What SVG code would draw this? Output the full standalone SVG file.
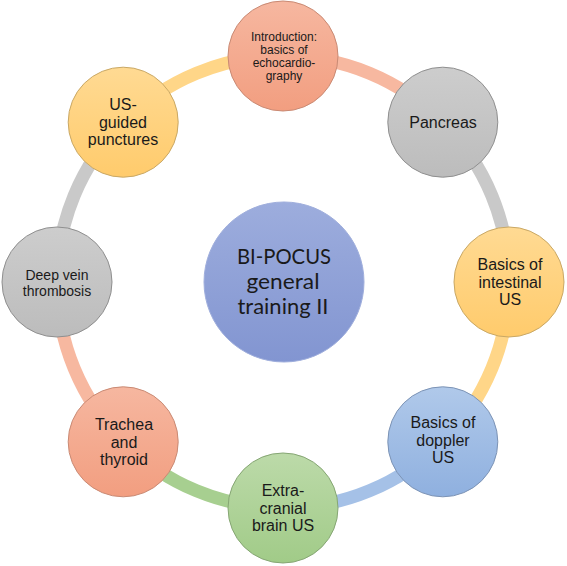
<svg xmlns="http://www.w3.org/2000/svg" width="567" height="566" viewBox="0 0 567 566">
<defs>
<linearGradient id="gSalmon" x1="0" y1="0" x2="0" y2="1"><stop offset="0" stop-color="#F6B7A0"/><stop offset="1" stop-color="#F29E80"/></linearGradient>
<linearGradient id="gGray" x1="0" y1="0" x2="0" y2="1"><stop offset="0" stop-color="#CDCDCD"/><stop offset="1" stop-color="#BCBCBC"/></linearGradient>
<linearGradient id="gYellow" x1="0" y1="0" x2="0" y2="1"><stop offset="0" stop-color="#FFDA93"/><stop offset="1" stop-color="#FFCB6C"/></linearGradient>
<linearGradient id="gBlue" x1="0" y1="0" x2="0" y2="1"><stop offset="0" stop-color="#B0C9EA"/><stop offset="1" stop-color="#8FB0DF"/></linearGradient>
<linearGradient id="gGreen" x1="0" y1="0" x2="0" y2="1"><stop offset="0" stop-color="#BCDAA9"/><stop offset="1" stop-color="#A1CB88"/></linearGradient>
<linearGradient id="gCenter" x1="0" y1="0" x2="0" y2="1"><stop offset="0" stop-color="#9DADDD"/><stop offset="1" stop-color="#8295D1"/></linearGradient>
</defs>
<style>
.arc{fill:none;stroke-width:13;}
.node{stroke-width:1;}
.t{font-family:"Liberation Sans",Arial,sans-serif;font-size:16px;fill:#1a1a1a;text-anchor:middle;}
.c{font-family:Lato,"Open Sans",sans-serif;font-size:22px;fill:#1a1a1a;text-anchor:middle;}
</style>
<rect width="567" height="566" fill="#ffffff"/>
<g id="connectors">
<path class="arc" stroke="#F7B8A0" d="M283,56 A226,226 0 0 1 442.8,122.2"/>
<path class="arc" stroke="#C9C9C9" d="M442.8,122.2 A226,226 0 0 1 509,282"/>
<path class="arc" stroke="#FFD688" d="M509,282 A226,226 0 0 1 442.8,441.8"/>
<path class="arc" stroke="#A5C1E7" d="M442.8,441.8 A226,226 0 0 1 283,508"/>
<path class="arc" stroke="#A7CF90" d="M283,508 A226,226 0 0 1 123.2,441.8"/>
<path class="arc" stroke="#F7B8A0" d="M123.2,441.8 A226,226 0 0 1 57,282"/>
<path class="arc" stroke="#C9C9C9" d="M57,282 A226,226 0 0 1 123.2,122.2"/>
<path class="arc" stroke="#FFD688" d="M123.2,122.2 A226,226 0 0 1 283,56"/>
</g>
<g id="center">
<circle cx="284" cy="282" r="80" fill="url(#gCenter)" stroke="#9FAEDC" stroke-width="1"/>
<text class="c" x="284" y="264" textLength="94" lengthAdjust="spacingAndGlyphs">BI-POCUS</text>
<text class="c" x="283" y="289" textLength="73" lengthAdjust="spacingAndGlyphs">general</text>
<text class="c" x="283" y="314" textLength="91" lengthAdjust="spacingAndGlyphs">training II</text>
</g>
<g id="intro">
<circle class="node" cx="283" cy="56" r="55" fill="url(#gSalmon)" stroke="#C98A74"/>
<text class="t" style="font-size:12px" x="284" y="41">Introduction:</text>
<text class="t" style="font-size:12px" x="284" y="54">basics of</text>
<text class="t" style="font-size:12px" x="284" y="67">echocardio-</text>
<text class="t" style="font-size:12px" x="284" y="80">graphy</text>
</g>
<g id="pancreas">
<circle class="node" cx="442.8" cy="122.2" r="55" fill="url(#gGray)" stroke="#8F8F8F"/>
<text class="t" x="443" y="127.5">Pancreas</text>
</g>
<g id="intestinal">
<circle class="node" cx="509" cy="282" r="55" fill="url(#gYellow)" stroke="#C9A865"/>
<text class="t" x="510" y="270">Basics of</text>
<text class="t" x="510" y="287.5">intestinal</text>
<text class="t" x="510" y="305">US</text>
</g>
<g id="doppler">
<circle class="node" cx="442.8" cy="441.8" r="55" fill="url(#gBlue)" stroke="#7C93B5"/>
<text class="t" x="443" y="428">Basics of</text>
<text class="t" x="443" y="445.5">doppler</text>
<text class="t" x="443" y="463">US</text>
</g>
<g id="extracranial">
<circle class="node" cx="283" cy="508" r="55" fill="url(#gGreen)" stroke="#86A674"/>
<text class="t" x="283" y="496">Extra-</text>
<text class="t" x="283" y="513.5">cranial</text>
<text class="t" x="283" y="531">brain US</text>
</g>
<g id="trachea">
<circle class="node" cx="123.2" cy="441.8" r="55" fill="url(#gSalmon)" stroke="#C98A74"/>
<text class="t" x="124" y="430">Trachea</text>
<text class="t" x="124" y="447.5">and</text>
<text class="t" x="124" y="465">thyroid</text>
</g>
<g id="deepvein">
<circle class="node" cx="57" cy="282" r="55" fill="url(#gGray)" stroke="#8F8F8F"/>
<text class="t" style="font-size:14px" x="57" y="280">Deep vein</text>
<text class="t" style="font-size:14px" x="57" y="295.5">thrombosis</text>
</g>
<g id="usguided">
<circle class="node" cx="123.2" cy="122.2" r="55" fill="url(#gYellow)" stroke="#C9A865"/>
<text class="t" x="123" y="110">US-</text>
<text class="t" x="123" y="127.5">guided</text>
<text class="t" x="123" y="145">punctures</text>
</g>
</svg>
